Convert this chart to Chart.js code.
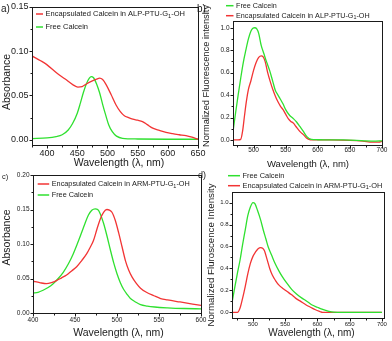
<!DOCTYPE html>
<html>
<head>
<meta charset="utf-8">
<script src="https://cdn.jsdelivr.net/npm/chart.js@4.4.0/dist/chart.umd.min.js"></script>
<style>
  html, body { margin: 0; padding: 0; background: #fff; }
  #wrap { position: relative; width: 392px; height: 341px; overflow: hidden; background: #fff; }
  #wrap canvas { position: absolute; left: 0; top: 0; }
</style>
</head>
<body>
<div id="wrap">
  <canvas id="pa" width="392" height="341"></canvas>
  <canvas id="pb" width="392" height="341"></canvas>
  <canvas id="pc" width="392" height="341"></canvas>
  <canvas id="pd" width="392" height="341"></canvas>
</div>
<script>
/* =========================
   DATA
========================= */

// a) absorbance, ALP-PTU-G1-OH
const aEncWl  = [375, 390, 400, 415, 430, 443, 451, 458, 465, 475, 482, 487, 492, 498, 506, 514, 521, 528, 535, 542, 550, 558, 566, 575, 586, 597, 608, 619, 630, 640, 650];
const aEncAbs = [0.0947, 0.089, 0.0846, 0.076, 0.0685, 0.062, 0.0595, 0.060, 0.063, 0.0665, 0.0685, 0.0695, 0.068, 0.062, 0.051, 0.0395, 0.032, 0.027, 0.025, 0.0233, 0.022, 0.0205, 0.017, 0.013, 0.0105, 0.0083, 0.0068, 0.0056, 0.0045, 0.0028, 0.0005];
const aFreeWl  = [375, 400, 415, 425, 435, 442, 450, 455, 460, 465, 470, 473, 477, 482, 487, 492, 497, 502, 508, 515, 525, 550, 600, 650];
const aFreeAbs = [0.0012, 0.002, 0.0035, 0.0056, 0.011, 0.018, 0.030, 0.041, 0.053, 0.063, 0.0695, 0.0714, 0.070, 0.063, 0.053, 0.040, 0.028, 0.017, 0.009, 0.004, 0.0015, 0.0008, 0.0005, 0.0005];

// b) fluorescence, ALP-PTU-G1-OH
const bFreeWl  = [468, 472, 476, 480, 484, 488, 492, 496, 499, 502, 505, 508, 512, 516, 520, 525, 530, 534, 538, 542, 546, 550, 556, 562, 567, 572, 577, 583, 590, 600, 620, 640, 660, 675, 690, 700];
const bFreeInt = [0.074, 0.24, 0.40, 0.55, 0.69, 0.80, 0.90, 0.97, 0.995, 1.0, 0.99, 0.95, 0.84, 0.77, 0.70, 0.62, 0.52, 0.44, 0.40, 0.36, 0.32, 0.27, 0.22, 0.19, 0.16, 0.12, 0.08, 0.03, 0.006, 0.002, 0.0, 0.0, -0.003, -0.008, -0.01, -0.008];
const bEncWl  = [468, 476, 480, 483, 486, 489, 492, 496, 500, 504, 508, 512, 515, 518, 522, 526, 530, 534, 538, 542, 546, 550, 554, 558, 562, 566, 570, 574, 578, 582, 586, 592, 620, 650, 670, 685, 695, 700];
const bEncInt = [0, 0, 0.005, 0.08, 0.22, 0.35, 0.45, 0.53, 0.62, 0.69, 0.735, 0.75, 0.74, 0.70, 0.60, 0.52, 0.45, 0.39, 0.34, 0.30, 0.27, 0.23, 0.19, 0.165, 0.15, 0.12, 0.09, 0.065, 0.045, 0.02, 0.006, 0.0, 0.0, -0.003, -0.01, -0.02, -0.02, -0.012];

// c) absorbance, ARM-PTU-G1-OH
const cEncWl  = [400, 408, 416, 422, 428, 434, 440, 446, 452, 458, 464, 468, 472, 476, 480, 484, 488, 491, 494, 498, 502, 506, 510, 514, 518, 523, 528, 535, 544, 552, 560, 575, 590, 600];
const cEncAbs = [0.046, 0.044, 0.0425, 0.044, 0.047, 0.051, 0.055, 0.061, 0.067, 0.076, 0.086, 0.095, 0.105, 0.121, 0.136, 0.146, 0.150, 0.149, 0.146, 0.134, 0.116, 0.096, 0.076, 0.062, 0.052, 0.043, 0.036, 0.030, 0.025, 0.021, 0.019, 0.016, 0.013, 0.011];
const cFreeWl  = [400, 406, 412, 418, 424, 430, 436, 442, 448, 453, 458, 462, 466, 470, 474, 477, 480, 484, 488, 492, 496, 500, 504, 508, 512, 516, 522, 528, 536, 545, 560, 580, 600];
const cFreeAbs = [0.029, 0.030, 0.033, 0.037, 0.0425, 0.050, 0.059, 0.071, 0.086, 0.101, 0.117, 0.130, 0.142, 0.149, 0.151, 0.150, 0.144, 0.130, 0.112, 0.092, 0.073, 0.057, 0.044, 0.034, 0.027, 0.021, 0.016, 0.012, 0.010, 0.0087, 0.0075, 0.0065, 0.006];

// d) fluorescence, ARM-PTU-G1-OH
const dFreeWl  = [467, 472, 476, 480, 484, 488, 492, 496, 500, 503, 507, 512, 516, 520, 524, 529, 534, 540, 545, 552, 560, 568, 576, 584, 591, 600, 607, 613, 618, 625, 640, 700];
const dFreeInt = [0.07, 0.235, 0.36, 0.477, 0.62, 0.75, 0.88, 0.96, 1.0, 0.99, 0.93, 0.84, 0.75, 0.67, 0.59, 0.52, 0.45, 0.38, 0.33, 0.27, 0.21, 0.165, 0.13, 0.10, 0.07, 0.047, 0.03, 0.018, 0.009, 0.002, 0, 0];
const dEncWl  = [467, 476, 480, 484, 488, 492, 496, 500, 504, 508, 512, 515, 518, 522, 526, 530, 535, 540, 547, 553, 560, 566, 574, 582, 590, 597, 604, 608, 700];
const dEncInt = [0, 0, 0.04, 0.13, 0.235, 0.35, 0.446, 0.51, 0.55, 0.58, 0.59, 0.585, 0.56, 0.48, 0.40, 0.34, 0.29, 0.25, 0.215, 0.19, 0.16, 0.13, 0.10, 0.07, 0.045, 0.024, 0.008, 0, 0];

// tick values and labels
const xTicksA = [400, 450, 500, 550, 600, 650];
const xTicksB = [500, 550, 600, 650, 700];
const xTicksC = [400, 450, 500, 550, 600];
const xTicksD = [500, 550, 600, 650, 700];
const yTicksAbsA = [0, 0.05, 0.10, 0.15];
const yTicksAbsC = [0, 0.05, 0.10, 0.15, 0.20];
const yTicksFl = [0, 0.2, 0.4, 0.6, 0.8, 1.0];
const yLabelsAbsA = ['0.00', '0.05', '0.10', '0.15'];
const yLabelsAbsC = ['0.00', '0.05', '0.10', '0.15', '0.20'];
const yLabelsFl = ['0.0', '0.2', '0.4', '0.6', '0.8', '1.0'];

const labelEncALP = 'Encapsulated Calcein in ALP-PTU-G\u2081-OH';
const labelEncARM = 'Encapsulated Calcein in ARM-PTU-G\u2081-OH';
const labelFree = 'Free Calcein';

/* =========================
   STYLE
========================= */

const W = 392, H = 341;
const RED = '#f23434';
const GREEN = '#2fe02f';
const INK = '#1a1a1a';
const FAM = '"Liberation Sans", Arial, sans-serif';

function font(sz) { return sz + 'px ' + FAM; }

function midpoints(arr) {
    let out = [];
    for (let i = 0; i < arr.length - 1; i++) out.push((arr[i] + arr[i + 1]) / 2);
    let step = arr[1] - arr[0];
    out.push(arr[0] - step / 2, arr[arr.length - 1] + step / 2);
    return out;
}

/* =========================
   PANEL
========================= */

function panel(id, cfg) {
    const A = cfg.area;

    const datasets = cfg.series.map(s => ({
        label: s.label,
        data: s.x.map((v, i) => ({ x: v, y: s.y[i] })),
        borderColor: s.color,
        borderWidth: 1.3,
        pointRadius: 0,
        cubicInterpolationMode: 'monotone',
        fill: false
    }));

    const deco = {
        id: 'deco_' + id,
        afterDraw(chart) {
            const ctx = chart.ctx;
            const a = chart.chartArea;
            const x = chart.scales.x, y = chart.scales.y;
            ctx.save();
            ctx.strokeStyle = INK;
            ctx.fillStyle = INK;
            ctx.lineWidth = 1;

            // frame
            ctx.strokeRect(Math.round(a.left) + 0.5, Math.round(a.top) + 0.5,
                Math.round(a.right - a.left), Math.round(a.bottom - a.top));

            const bot = Math.round(a.bottom) + 0.5;
            const lft = Math.round(a.left) + 0.5;

            ctx.beginPath();
            cfg.xTicks.forEach(v => {
                let px = Math.round(x.getPixelForValue(v)) + 0.5;
                ctx.moveTo(px, bot); ctx.lineTo(px, bot + 3);
            });
            midpoints(cfg.xTicks).forEach(v => {
                if (v < x.min || v > x.max) return;
                let px = Math.round(x.getPixelForValue(v)) + 0.5;
                ctx.moveTo(px, bot); ctx.lineTo(px, bot + 2);
            });
            cfg.yTicks.forEach(v => {
                let py = Math.round(y.getPixelForValue(v)) + 0.5;
                ctx.moveTo(lft, py); ctx.lineTo(lft - 3, py);
            });
            midpoints(cfg.yTicks).forEach(v => {
                if (v < y.min || v > y.max) return;
                let py = Math.round(y.getPixelForValue(v)) + 0.5;
                ctx.moveTo(lft, py); ctx.lineTo(lft - 2, py);
            });
            ctx.stroke();

            // tick labels
            ctx.font = font(cfg.tickSize);
            ctx.textAlign = 'center';
            ctx.textBaseline = 'middle';
            cfg.xTicks.forEach(v => {
                ctx.fillText(String(v), x.getPixelForValue(v), a.bottom + cfg.xLabOff);
            });
            ctx.textAlign = 'right';
            cfg.yTicks.forEach((v, i) => {
                ctx.fillText(cfg.yLabels[i], a.left - 3.5, y.getPixelForValue(v));
            });

            // axis titles
            ctx.textAlign = 'center';
            ctx.font = font(cfg.xTitle.size);
            ctx.fillText(cfg.xTitle.text, cfg.xTitle.x, cfg.xTitle.y);
            ctx.save();
            ctx.translate(cfg.yTitle.x, cfg.yTitle.y);
            ctx.rotate(-Math.PI / 2);
            ctx.font = font(cfg.yTitle.size);
            ctx.fillText(cfg.yTitle.text, 0, 0);
            ctx.restore();

            // panel tag
            ctx.textAlign = 'left';
            ctx.font = font(cfg.tag.size);
            ctx.fillText(cfg.tag.text, cfg.tag.x, cfg.tag.y);

            // legend
            const L = cfg.legend;
            chart.data.datasets.forEach((d, i) => {
                let ly = L.y + i * L.dy;
                ctx.strokeStyle = d.borderColor;
                ctx.lineWidth = 1.5;
                ctx.beginPath();
                ctx.moveTo(L.x, ly); ctx.lineTo(L.x + L.len, ly);
                ctx.stroke();
                ctx.fillStyle = INK;
                ctx.font = font(L.size);
                let tx = L.x + L.len + 2.5;
                let parts = d.label.split('\u2081');
                ctx.fillText(parts[0], tx, ly);
                if (parts.length > 1) {
                    tx += ctx.measureText(parts[0]).width;
                    ctx.font = font(L.size * 0.75);
                    ctx.fillText('1', tx, ly + L.size * 0.3);
                    tx += ctx.measureText('1').width;
                    ctx.font = font(L.size);
                    ctx.fillText(parts[1], tx, ly);
                }
            });
            ctx.restore();
        }
    };

    new Chart(document.getElementById(id), {
        type: 'line',
        data: { datasets: datasets },
        options: {
            responsive: false,
            animation: false,
            events: [],
            layout: { padding: { left: A[0], top: A[1], right: W - A[2], bottom: H - A[3] } },
            scales: {
                x: { type: 'linear', display: false, min: cfg.xr[0], max: cfg.xr[1] },
                y: { type: 'linear', display: false, min: cfg.yr[0], max: cfg.yr[1] }
            },
            plugins: { legend: { display: false }, tooltip: { enabled: false } }
        },
        plugins: [deco]
    });
}

/* =========================
   BUILD
========================= */

panel('pa', {
    area: [32, 7, 198, 145], xr: [375, 650], yr: [-0.006, 0.15],
    series: [
        { label: labelEncALP, x: aEncWl, y: aEncAbs, color: RED },
        { label: labelFree, x: aFreeWl, y: aFreeAbs, color: GREEN }
    ],
    xTicks: xTicksA, yTicks: yTicksAbsA, yLabels: yLabelsAbsA,
    tickSize: 9, xLabOff: 9,
    xTitle: { text: 'Wavelength (\u03bb, nm)', x: 119, y: 163, size: 10.5 },
    yTitle: { text: 'Absorbance', x: 7.5, y: 82, size: 10.5 },
    tag: { text: 'a)', x: 1, y: 9, size: 10 },
    legend: { x: 36, y: 14, dy: 13, len: 7, size: 7.5 }
});

panel('pb', {
    area: [233, 21, 382, 145], xr: [468, 700], yr: [-0.045, 1.06],
    series: [
        { label: labelFree, x: bFreeWl, y: bFreeInt, color: GREEN },
        { label: labelEncALP, x: bEncWl, y: bEncInt, color: RED }
    ],
    xTicks: xTicksB, yTicks: yTicksFl, yLabels: yLabelsFl,
    tickSize: 6.5, xLabOff: 5.5,
    xTitle: { text: 'Wavelength (\u03bb, nm)', x: 308, y: 164, size: 9.5 },
    yTitle: { text: 'Normalized Fluorescence intensity', x: 206, y: 76, size: 9.3 },
    tag: { text: 'b)', x: 197, y: 9, size: 10 },
    legend: { x: 226, y: 5.7, dy: 10, len: 7.5, size: 7.2 }
});

panel('pc', {
    area: [33, 175, 201, 313], xr: [400, 600], yr: [0, 0.20],
    series: [
        { label: labelEncARM, x: cEncWl, y: cEncAbs, color: RED },
        { label: labelFree, x: cFreeWl, y: cFreeAbs, color: GREEN }
    ],
    xTicks: xTicksC, yTicks: yTicksAbsC, yLabels: yLabelsAbsC,
    tickSize: 6.5, xLabOff: 7.5,
    xTitle: { text: 'Wavelength (\u03bb, nm)', x: 118.5, y: 333, size: 10.5 },
    yTitle: { text: 'Absorbance', x: 7.5, y: 237.5, size: 10.5 },
    tag: { text: 'c)', x: 2, y: 177, size: 7.5 },
    legend: { x: 37.7, y: 184, dy: 11, len: 11.5, size: 7.3 }
});

panel('pd', {
    area: [232, 192, 383.5, 318], xr: [467.5, 702.5], yr: [-0.051, 1.096],
    series: [
        { label: labelFree, x: dFreeWl, y: dFreeInt, color: GREEN },
        { label: labelEncARM, x: dEncWl, y: dEncInt, color: RED }
    ],
    xTicks: xTicksD, yTicks: yTicksFl, yLabels: yLabelsFl,
    tickSize: 6, xLabOff: 6.5,
    xTitle: { text: 'Wavelength (\u03bb, nm)', x: 311.5, y: 333, size: 10 },
    yTitle: { text: 'Normalized Fluroscence Intensity', x: 211, y: 255, size: 9.7 },
    tag: { text: 'd)', x: 198, y: 176, size: 9 },
    legend: { x: 228, y: 175.7, dy: 10, len: 12, size: 7.4 }
});
</script>
</body>
</html>
